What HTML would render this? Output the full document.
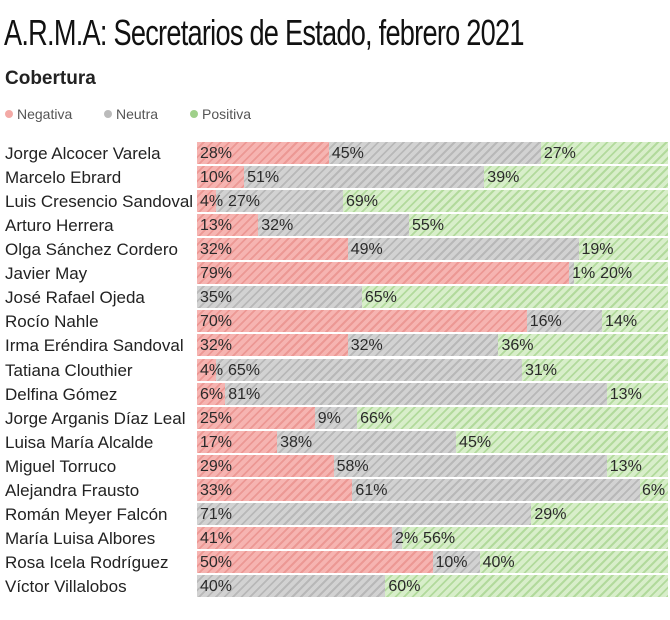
<!DOCTYPE html><html><head><meta charset="utf-8"><style>
body{margin:0;width:670px;height:620px;background:#fff;font-family:"Liberation Sans",sans-serif;position:relative;overflow:hidden;color:#222}
.t{position:absolute;left:4px;top:12px;font-family:"Liberation Sans Narrow","Liberation Sans",sans-serif;font-size:36px;letter-spacing:-1px;transform:scaleX(.755);transform-origin:0 0;white-space:nowrap;color:#111}
.c{position:absolute;left:5px;top:68px;font-size:19px;font-weight:bold}
.lg{position:absolute;top:106px;font-size:14px;color:#555}
.dot{display:inline-block;width:8px;height:8px;border-radius:50%;margin-right:4px;vertical-align:1px}
.n{position:absolute;left:5px;font-size:17px;line-height:22px;white-space:nowrap;color:#222}
.s{position:absolute;height:22px}
.l{position:absolute;font-size:16px;line-height:24px;white-space:nowrap;color:#2a2a2a}
.r{background:repeating-linear-gradient(135deg,#f6b4b1 0 4px,#ec9894 4px 6px)}
.g{background:repeating-linear-gradient(135deg,#d2d2d2 0 4px,#b8b8b8 4px 6px)}
.p{background:repeating-linear-gradient(135deg,#d8eeca 0 4px,#b2da9c 4px 6px)}
</style></head><body>
<div class="t">A.R.M.A: Secretarios de Estado, febrero 2021</div>
<div class="c">Cobertura</div>
<div class="lg" style="left:5px"><span class="dot" style="background:#f3aaa6"></span>Negativa</div>
<div class="lg" style="left:104px"><span class="dot" style="background:#bbb"></span>Neutra</div>
<div class="lg" style="left:190px"><span class="dot" style="background:#9fd08a"></span>Positiva</div>
<div id="ch"></div>
<script>
var d=[["Jorge Alcocer Varela",28,45,27],["Marcelo Ebrard",10,51,39],["Luis Cresencio Sandoval",4,27,69],["Arturo Herrera",13,32,55],["Olga Sánchez Cordero",32,49,19],["Javier May",79,1,20],["José Rafael Ojeda",0,35,65],["Rocío Nahle",70,16,14],["Irma Eréndira Sandoval",32,32,36],["Tatiana Clouthier",4,65,31],["Delfina Gómez",6,81,13],["Jorge Arganis Díaz Leal",25,9,66],["Luisa María Alcalde",17,38,45],["Miguel Torruco",29,58,13],["Alejandra Frausto",33,61,6],["Román Meyer Falcón",0,71,29],["María Luisa Albores",41,2,56],["Rosa Icela Rodríguez",50,10,40],["Víctor Villalobos",0,40,60]];
var h="",L="",X=197,W=471;
d.forEach(function(r,i){var y=142+24.06*i,t=r[1]+r[2]+r[3],x=X,lx=0;
h+='<div class="n" style="top:'+(y+1)+'px">'+r[0]+'</div>';
["r","g","p"].forEach(function(c,k){var v=r[k+1];if(!v)return;var w=W*v/t;
h+='<div class="s '+c+'" style="top:'+y+'px;left:'+x+'px;width:'+w+'px"></div>';
var px=Math.max(x+3,lx);px=Math.min(px,X+W-(v<10?26:36));
L+='<div class="l" style="top:'+y+'px;left:'+px+'px">'+v+'%</div>';lx=px+(v<10?28:38);x+=w;});});
document.getElementById("ch").innerHTML=h+L;
</script></body></html>
